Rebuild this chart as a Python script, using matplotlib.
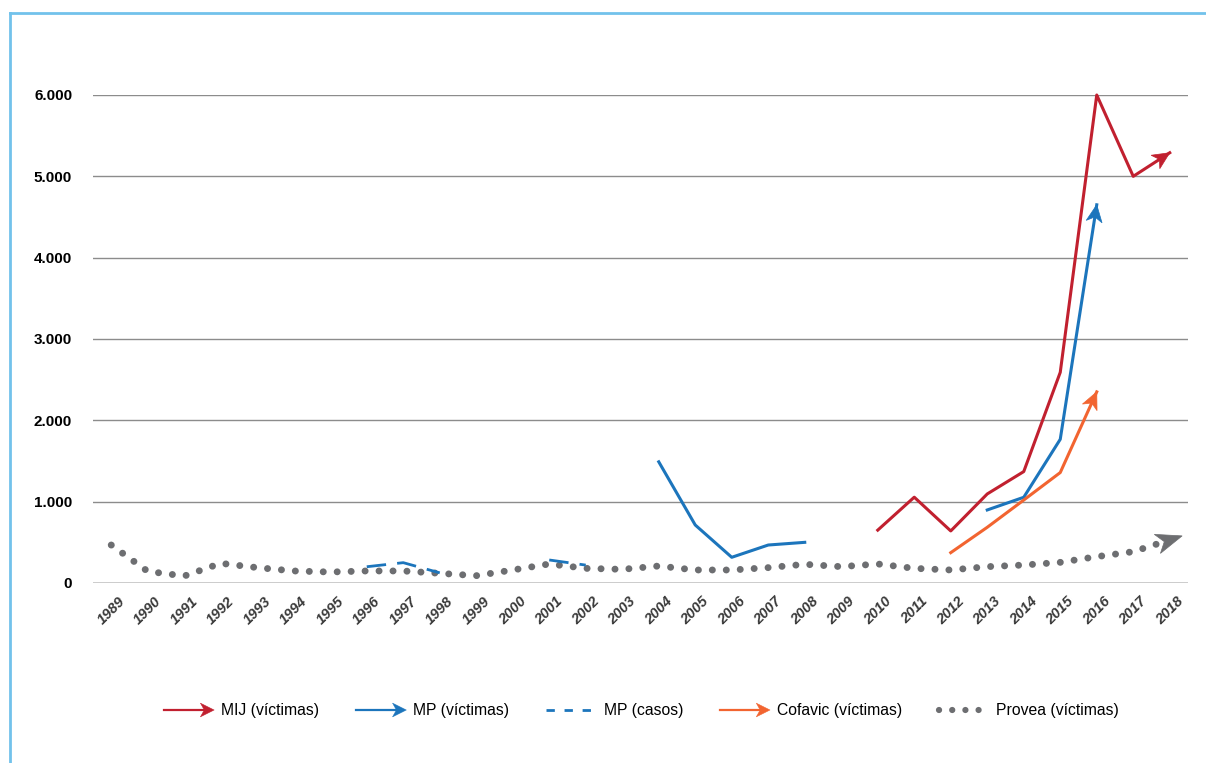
import numpy as np
import matplotlib
matplotlib.use("Agg")
import matplotlib.pyplot as plt
from matplotlib.lines import Line2D
from matplotlib.patches import Polygon
from matplotlib.legend_handler import HandlerBase
from matplotlib.ticker import FuncFormatter
from matplotlib.transforms import IdentityTransform

nan = np.nan

# datos
years = list(range(1989, 2019))
mij = [nan] * 21 + [650, 1055, 640, 1095, 1370, 2590, 6000, 5000, 5290]
mp_victimas = [nan] * 15 + [1490, 713, 316, 467, 500] + [nan] * 4 + [898, 1054, 1767, 4650, nan, nan]
mp_casos = [nan] * 7 + [200, 250, 125, nan, nan, 283, 220] + [nan] * 16
cofavic = [nan] * 23 + [373, 685, 1020, 1358, 2350, nan, nan]
provea = [467, 143, 86, 242, 189, 148, 135, 148, 148, 119, 90, 160, 234, 180, 168,
          209, 160, 160, 189, 230, 201, 234, 180, 160, 201, 221, 254, 324, 385, 530]

labels = ["MIJ (víctimas)", "MP (víctimas)", "MP (casos)", "Cofavic (víctimas)", "Provea (víctimas)"]

c_red = "#c1202f"
c_blue = "#1c75bc"
c_orange = "#f26430"
c_grey = "#6d6e71"

W, H = 1206, 763
fig = plt.figure(figsize=(W / 100, H / 100), dpi=100)
ax = fig.add_axes([93 / W, (H - 583) / H, 1095 / W, 488 / H])
x = np.arange(len(years))
ax.set_xlim(-0.5, len(years) - 0.5)
ax.set_ylim(0, 6000)

# rejilla
for v in range(1000, 7000, 1000):
    ax.axhline(v, color="#8c8c8c", lw=1.0, zorder=1)
ax.axhline(0, color="#bdbdbd", lw=1.8, zorder=1)
for s in ax.spines.values():
    s.set_visible(False)
ax.tick_params(length=0)

ax.set_yticks(range(0, 7000, 1000))
ax.yaxis.set_major_formatter(FuncFormatter(lambda v, p: f"{int(v):,}".replace(",", ".")))
for t in ax.get_yticklabels():
    t.set_fontfamily(["Liberation Sans", "DejaVu Sans"])
    t.set_fontweight("bold")
    t.set_fontsize(11)
ax.tick_params(axis="y", pad=15)

ax.set_xticks(x)
ax.set_xticklabels([str(y) for y in years], rotation=45, ha="center", va="top",
                   family=["Liberation Sans Narrow", "Liberation Sans", "DejaVu Sans"],
                   fontweight="bold", fontstyle="italic", fontsize=10.5, color="#3a3a3a")
ax.tick_params(axis="x", pad=8)


def arrow_head(xs, ys, color, length, width, center=False):
    xs = np.asarray(xs, float)
    ys = np.asarray(ys, float)
    ok = ~np.isnan(ys)
    xs, ys = xs[ok], ys[ok]
    p0 = ax.transData.transform((xs[-2], ys[-2]))
    p1 = ax.transData.transform((xs[-1], ys[-1]))
    d = (p1 - p0) / np.hypot(*(p1 - p0))
    n = np.array([-d[1], d[0]])
    tip = p1 + d * length * 0.5 if center else p1
    back = tip - d * length
    notch = tip - d * length * 0.72
    verts = [tip, back + n * width / 2, notch, back - n * width / 2]
    fig.add_artist(Polygon(verts, closed=True, facecolor=color, edgecolor=color,
                           lw=0.5, transform=IdentityTransform()))


# Provea punteado
ax.plot(x, provea, color=c_grey, lw=5, linestyle=(0, (0.01, 2)),
        dash_capstyle="round", zorder=2, clip_on=False)
arrow_head(x, provea, c_grey, 26, 20, center=True)

# MP casos
ax.plot(x, mp_casos, color=c_blue, lw=2, linestyle=(0, (7, 4)), zorder=3)

# MP victimas
ax.plot(x, mp_victimas, color=c_blue, lw=2.2, zorder=4, clip_on=False)
arrow_head(x, mp_victimas, c_blue, 17, 16)

# Cofavic
ax.plot(x, cofavic, color=c_orange, lw=2.2, zorder=4, clip_on=False)
arrow_head(x, cofavic, c_orange, 17, 16)

# MIJ
ax.plot(x, mij, color=c_red, lw=2.2, zorder=5, clip_on=False)
arrow_head(x, mij, c_red, 17, 16)


class HandlerArrow(HandlerBase):
    def create_artists(self, legend, orig, xd, yd, width, height, fontsize, trans):
        y = height / 2 - yd
        hl, hw = 10, 10
        line = Line2D([-xd, width - xd - hl * 0.7], [y, y], color=orig.get_color(), lw=1.6)
        tip = np.array([width - xd, y])
        head = Polygon([tip, tip + [-hl, hw / 2], tip + [-hl * 0.72, 0], tip + [-hl, -hw / 2]],
                       closed=True, facecolor=orig.get_color(), edgecolor=orig.get_color(), lw=0.3)
        line.set_transform(trans)
        head.set_transform(trans)
        return [line, head]


h_mij = Line2D([], [], color=c_red)
h_mpv = Line2D([], [], color=c_blue)
h_mpc = Line2D([], [], color=c_blue, lw=2, linestyle=(0, (3, 3.5)))
h_cof = Line2D([], [], color=c_orange)
h_pro = Line2D([], [], color=c_grey, lw=4.5, linestyle=(0, (0.01, 2.1)), dash_capstyle="round")

leg = fig.legend([h_mij, h_mpv, h_mpc, h_cof, h_pro], labels,
                 loc="center left", bbox_to_anchor=(164 / W, (H - 711) / H),
                 ncol=5, frameon=False, borderpad=0, borderaxespad=0,
                 handlelength=3.2, handletextpad=0.45, columnspacing=2.35,
                 prop={"family": ["Liberation Sans", "DejaVu Sans"], "size": 11.3},
                 handler_map={h_mij: HandlerArrow(), h_mpv: HandlerArrow(), h_cof: HandlerArrow()})

# marco azul
fig.add_artist(Line2D([10 / W, 10 / W], [0, (H - 13) / H], color="#72c2eb", lw=2, transform=fig.transFigure))
fig.add_artist(Line2D([10 / W, 1], [(H - 13) / H, (H - 13) / H], color="#72c2eb", lw=2, transform=fig.transFigure))

fig.savefig("out.png", dpi=100)
